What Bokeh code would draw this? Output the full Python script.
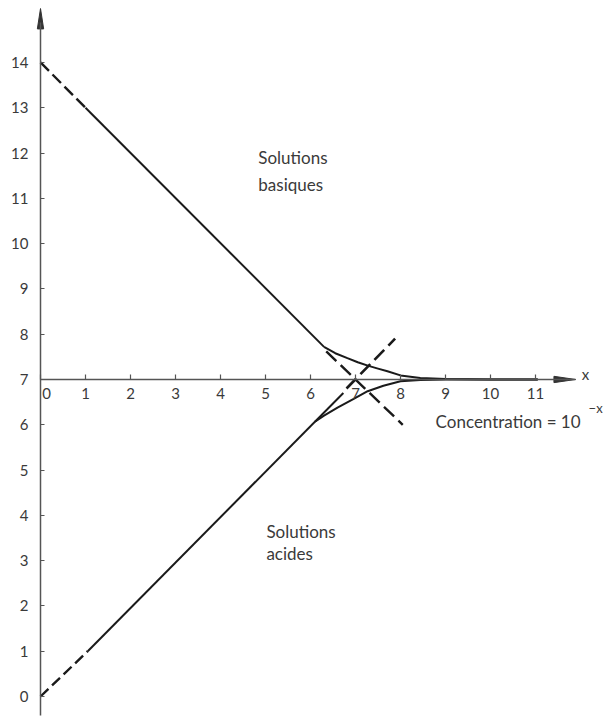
from bokeh.plotting import figure
from bokeh.models import Range1d, LinearAxis, FixedTicker, Label
from bokeh.embed import file_html
from bokeh.resources import INLINE

# ---- data ----
y_ticks = list(range(0, 15))
x_ticks = list(range(0, 12))

# basic solutions: asymptote pH = 14 - x
bas_dash1_x = [0.0, 1.0]
bas_dash1_y = [14.0, 13.0]
bas_solid_x = [1.0, 6.3]
bas_solid_y = [13.0, 7.72]
bas_dash2_x = [6.35, 8.05]
bas_dash2_y = [7.62, 6.0]
bas_curve_x = [6.3, 6.55, 6.82, 7.05, 7.29, 7.5, 7.71, 8.0, 8.44, 9.0, 10.0, 11.05]
bas_curve_y = [7.72, 7.58, 7.47, 7.38, 7.3, 7.24, 7.18, 7.09, 7.03, 7.01, 7.0, 7.0]

# acid solutions: asymptote pH = x
aci_dash1_x = [0.0, 1.05]
aci_dash1_y = [0.0, 1.0]
aci_solid_x = [1.05, 6.73]
aci_solid_y = [1.0, 6.7]
aci_dash2_x = [6.8, 7.88]
aci_dash2_y = [6.8, 7.9]
aci_curve_x = [6.1, 6.3, 6.6, 6.96, 7.27, 7.62, 8.0, 8.44, 9.0, 10.0, 11.05]
aci_curve_y = [6.07, 6.2, 6.38, 6.57, 6.74, 6.86, 6.96, 6.99, 7.0, 7.0, 7.0]

# axes geometry (data units)
x_axis_at = 7.0
y_axis_at = 0.0
x_axis_end = 11.89
y_axis_start = -0.42
y_axis_end = 15.19

W, H = 610, 720
px_per_x = 45.0
px_per_y = 45.29
x0_px = 40
y0_px = 696

p = figure(width=W, height=H, output_backend="svg", toolbar_location=None,
           x_range=Range1d(-x0_px / px_per_x, (W - x0_px) / px_per_x),
           y_range=Range1d(-(H - y0_px) / px_per_y, y0_px / px_per_y),
           x_axis_type=None, y_axis_type=None, min_border=0)
p.outline_line_color = None
p.xgrid.visible = False
p.ygrid.visible = False
p.background_fill_color = "white"

FONT = "Lato"
AXC = "#555555"
TXT = "#3a3a3a"

xa = LinearAxis(ticker=FixedTicker(ticks=x_ticks), fixed_location=x_axis_at,
                bounds=(0, x_axis_end))
xa.axis_line_color = AXC
xa.axis_line_width = 1.5
xa.major_tick_line_color = AXC
xa.major_tick_line_width = 1.2
xa.major_tick_in = 5
xa.major_tick_out = 0
xa.minor_tick_line_color = None
xa.major_label_standoff = 9
xa.major_label_text_font = FONT
xa.major_label_text_font_size = "15px"
xa.major_label_text_color = TXT
xa.major_label_overrides = {0: ""}
p.add_layout(xa, "below")

ya = LinearAxis(ticker=FixedTicker(ticks=y_ticks), fixed_location=y_axis_at,
                bounds=(y_axis_start, y_axis_end - 0.3))
ya.axis_line_color = AXC
ya.axis_line_width = 1.5
ya.major_tick_line_color = AXC
ya.major_tick_line_width = 1.2
ya.major_tick_in = 4
ya.major_tick_out = 0
ya.minor_tick_line_color = None
ya.major_label_standoff = 12
ya.major_label_text_font = FONT
ya.major_label_text_font_size = "15px"
ya.major_label_text_color = TXT
p.add_layout(ya, "left")

# arrow heads
p.patch([y_axis_at, y_axis_at - 0.07, y_axis_at + 0.07],
        [y_axis_end, y_axis_end - 0.45, y_axis_end - 0.45],
        fill_color="#333333", line_color="#333333")
p.patch([x_axis_end, x_axis_end - 0.48, x_axis_end - 0.48],
        [x_axis_at, x_axis_at + 0.07, x_axis_at - 0.07],
        fill_color="#333333", line_color="#333333")

LC = "#1a1a1a"
p.line(bas_dash1_x, bas_dash1_y, line_color=LC, line_width=2.4, line_dash="12 5")
p.line(bas_solid_x, bas_solid_y, line_color=LC, line_width=2)
p.line(bas_dash2_x, bas_dash2_y, line_color=LC, line_width=2.4, line_dash="14 6")
p.line(bas_curve_x, bas_curve_y, line_color=LC, line_width=2)

p.line(aci_dash1_x, aci_dash1_y, line_color=LC, line_width=2.4, line_dash="11 5")
p.line(aci_solid_x, aci_solid_y, line_color=LC, line_width=2)
p.line(aci_dash2_x, aci_dash2_y, line_color=LC, line_width=2.6, line_dash="14 6")
p.line(aci_curve_x, aci_curve_y, line_color=LC, line_width=2)


def lab(x, y, t, size="17px", dx=0, dy=0, align="left", baseline="middle"):
    p.add_layout(Label(x=x, y=y, text=t, x_offset=dx, y_offset=dy, text_font=FONT,
                       text_font_size=size, text_color=TXT, text_align=align,
                       text_baseline=baseline))


lab(0, x_axis_at, "0", size="15px", dx=6, dy=-9, align="center", baseline="top")
lab(12.11, 7.13, "x", size="15px", align="center")
lab(4.84, 11.9, "Solutions")
lab(4.84, 11.3, "basiques")
lab(5.02, 3.64, "Solutions")
lab(5.02, 3.16, "acides")
lab(8.78, 6.07, "Concentration = 10", size="17px")
lab(12.18, 6.36, "\u2212x", size="13px")

open("out.html", "w").write(file_html(p, INLINE))
